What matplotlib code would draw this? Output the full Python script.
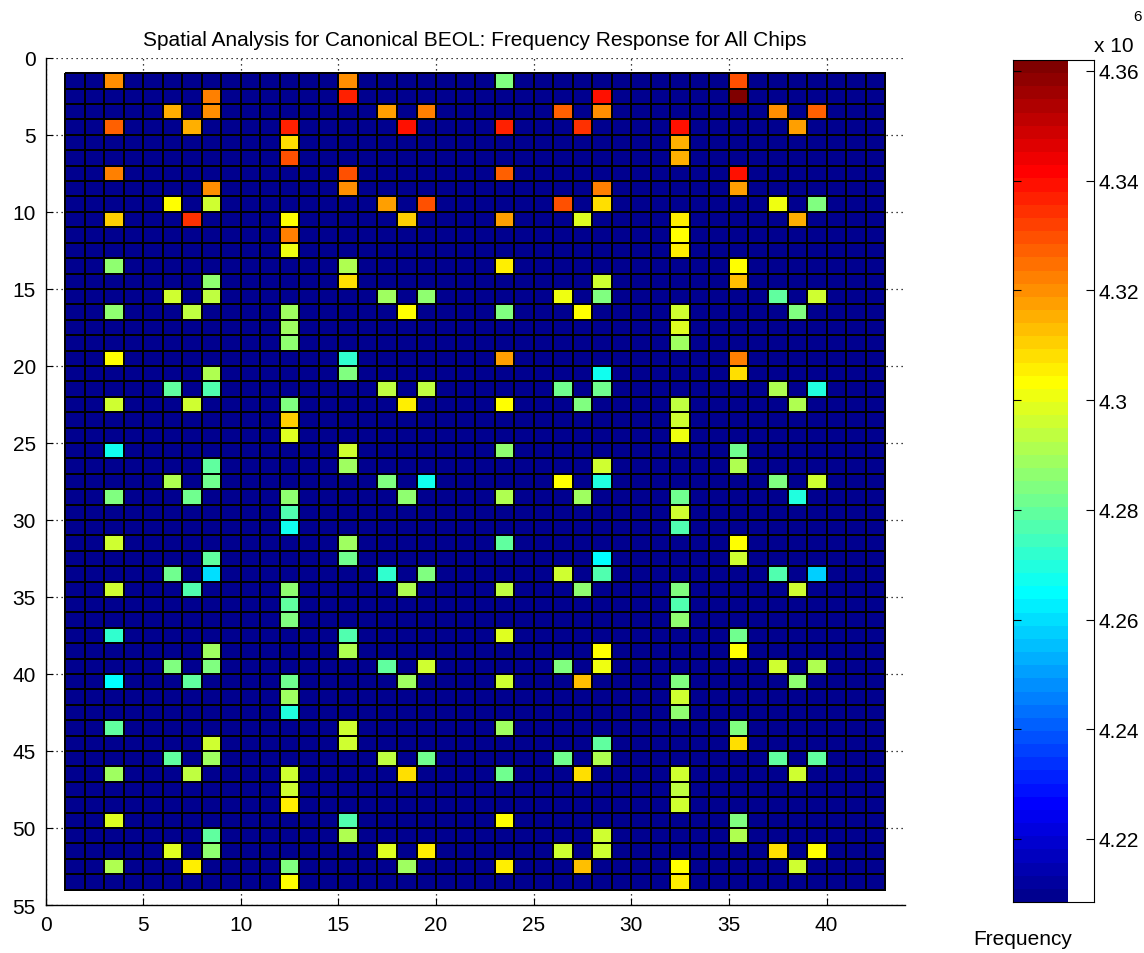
import numpy as np
import matplotlib
matplotlib.use("Agg")
import matplotlib.pyplot as plt
from matplotlib.colors import ListedColormap, Normalize

plt.rcParams['font.family'] = ['Liberation Sans', 'DejaVu Sans']

# frequency in units of 1e6, background cells sit at the minimum
f_min = 4.2085
f_max = 4.362
n_cols = 42
n_rows = 53

# row indices (cell top edge) of the test structures in each column type
rows_a = [1, 4, 7, 10, 13, 16, 19, 22, 25, 28, 31, 34, 37, 40, 43, 46, 49, 52]
rows_v_top = [3, 9, 15, 21, 27, 33, 39, 45, 51]
rows_v_low = [4, 10, 16, 22, 28, 34, 40, 46, 52]
rows_v_pair = [2, 3, 8, 9, 14, 15, 20, 21, 26, 27, 32, 33, 38, 39, 44, 45, 50, 51]
rows_triple = [4, 5, 6, 10, 11, 12, 16, 17, 18, 22, 23, 24, 28, 29, 30,
               34, 35, 36, 40, 41, 42, 46, 47, 48, 52, 53]
rows_pair = [1, 2, 7, 8, 13, 14, 19, 20, 25, 26, 31, 32, 37, 38, 43, 44, 49, 50]

freq_c03 = [4.320, 4.327, 4.322, 4.310, 4.287, 4.286, 4.303, 4.295, 4.267,
            4.285, 4.297, 4.297, 4.273, 4.265, 4.279, 4.289, 4.299, 4.291]
freq_c06 = [4.315, 4.303, 4.295, 4.279, 4.291, 4.281, 4.285, 4.279, 4.299]
freq_c07 = [4.315, 4.334, 4.294, 4.295, 4.282, 4.277, 4.279, 4.293, 4.306]
freq_c08 = [4.322, 4.321, 4.319, 4.297, 4.287, 4.294, 4.292, 4.277, 4.279,
            4.282, 4.279, 4.259, 4.288, 4.284, 4.297, 4.288, 4.279, 4.287]
freq_c12 = [4.338, 4.308, 4.329, 4.303, 4.322, 4.302, 4.288, 4.289, 4.286,
            4.284, 4.311, 4.299, 4.287, 4.277, 4.267, 4.287, 4.279, 4.283,
            4.282, 4.289, 4.270, 4.297, 4.297, 4.306, 4.284, 4.303]
freq_c15 = [4.319, 4.336, 4.329, 4.319, 4.292, 4.308, 4.273, 4.285, 4.297,
            4.289, 4.289, 4.281, 4.277, 4.291, 4.295, 4.295, 4.277, 4.291]
freq_c17 = [4.317, 4.317, 4.288, 4.293, 4.285, 4.273, 4.280, 4.293, 4.299]
freq_c18 = [4.339, 4.311, 4.303, 4.305, 4.287, 4.292, 4.289, 4.308, 4.289]
freq_c19 = [4.322, 4.329, 4.286, 4.293, 4.267, 4.283, 4.297, 4.281, 4.306]
freq_c23 = [4.283, 4.336, 4.327, 4.317, 4.305, 4.284, 4.318, 4.303, 4.287,
            4.291, 4.279, 4.293, 4.299, 4.295, 4.289, 4.282, 4.303, 4.306]
freq_c26 = [4.327, 4.329, 4.300, 4.282, 4.303, 4.295, 4.284, 4.282, 4.297]
freq_c27 = [4.334, 4.299, 4.303, 4.284, 4.289, 4.287, 4.313, 4.308, 4.313]
freq_c28 = [4.339, 4.321, 4.322, 4.308, 4.295, 4.284, 4.267, 4.282, 4.295,
            4.270, 4.265, 4.277, 4.303, 4.300, 4.280, 4.291, 4.297, 4.295]
freq_c32 = [4.340, 4.315, 4.315, 4.306, 4.303, 4.305, 4.297, 4.299, 4.288,
            4.293, 4.295, 4.300, 4.282, 4.297, 4.277, 4.283, 4.277, 4.287,
            4.284, 4.297, 4.287, 4.295, 4.294, 4.297, 4.303, 4.305]
freq_c35 = [4.330, 4.361, 4.340, 4.317, 4.303, 4.313, 4.322, 4.309, 4.282,
            4.291, 4.303, 4.297, 4.282, 4.304, 4.285, 4.308, 4.285, 4.291]
freq_c37 = [4.321, 4.300, 4.280, 4.291, 4.284, 4.277, 4.296, 4.280, 4.307]
freq_c38 = [4.317, 4.315, 4.284, 4.291, 4.270, 4.297, 4.287, 4.296, 4.296]
freq_c39 = [4.327, 4.284, 4.295, 4.270, 4.295, 4.257, 4.291, 4.280, 4.303]

columns = [
    (3, rows_a, freq_c03), (6, rows_v_top, freq_c06), (7, rows_v_low, freq_c07),
    (8, rows_v_pair, freq_c08), (12, rows_triple, freq_c12), (15, rows_pair, freq_c15),
    (17, rows_v_top, freq_c17), (18, rows_v_low, freq_c18), (19, rows_v_top, freq_c19),
    (23, rows_a, freq_c23), (26, rows_v_top, freq_c26), (27, rows_v_low, freq_c27),
    (28, rows_v_pair, freq_c28), (32, rows_triple, freq_c32), (35, rows_pair, freq_c35),
    (37, rows_v_top, freq_c37), (38, rows_v_low, freq_c38), (39, rows_v_top, freq_c39),
]


def matlab_jet(m=64):
    # same construction as MATLAB's jet.m
    n = int(np.ceil(m / 4))
    u = np.concatenate([np.arange(1, n + 1) / n, np.ones(n - 1), np.arange(n, 0, -1) / n])
    g = int(np.ceil(n / 2)) - int(m % 4 == 1) + np.arange(1, len(u) + 1)
    r = g + n
    b = g - n
    J = np.zeros((m, 3))
    gk = g[g <= m]
    J[gk - 1, 1] = u[:len(gk)]
    rk = r[r <= m]
    J[rk - 1, 0] = u[:len(rk)]
    bk = b[b >= 1]
    J[bk - 1, 2] = u[len(u) - len(bk):]
    return J


cmap = ListedColormap(matlab_jet(64))
norm = Normalize(vmin=f_min, vmax=f_max)

grid = np.full((n_rows, n_cols), f_min)
for col, rows, vals in columns:
    for r, v in zip(rows, vals):
        grid[r - 1, col - 1] = v

x_edges = np.arange(1, n_cols + 2)
y_edges = np.arange(1, n_rows + 2)

fig = plt.figure(figsize=(11.44, 9.54), dpi=100)
ax = fig.add_axes([0.0398, 0.0503, 0.751, 0.888])

ax.pcolormesh(x_edges, y_edges, grid, cmap=cmap, norm=norm,
              edgecolors='black', linewidth=1.2, zorder=2)
ax.set_xlim(0, 44)
ax.set_ylim(55, 0)
ax.set_xticks(np.arange(0, 41, 5))
ax.set_yticks(np.arange(0, 56, 5))
ax.grid(True, color='black', linestyle=(0, (1, 3)), linewidth=0.9, zorder=0)
ax.set_axisbelow(True)
for side in ['top', 'right']:
    ax.spines[side].set_visible(False)
ax.spines['left'].set_linewidth(1.0)
ax.spines['bottom'].set_linewidth(1.0)
ax.tick_params(direction='in', length=5, labelsize=15, pad=7)
ax.set_title("Spatial Analysis for Canonical BEOL: Frequency Response for All Chips",
             fontsize=15, pad=9)

# colorbar drawn as its own axes (MATLAB leaves a white strip on the right)
cax = fig.add_axes([1013 / 1144, 51 / 954, 81 / 1144, 842 / 954])
band_edges = np.linspace(f_min, f_max, 65)
band_mid = (band_edges[:-1] + band_edges[1:]) / 2
cax.pcolormesh([0, 0.68], band_edges, band_mid[:, None], cmap=cmap, norm=norm)
cax.set_xlim(0, 1)
cax.set_ylim(f_min, f_max)
cax.set_xticks([])
cbar_ticks = [4.22, 4.24, 4.26, 4.28, 4.30, 4.32, 4.34, 4.36]
cax.set_yticks(cbar_ticks)
cax.set_yticklabels(['4.22', '4.24', '4.26', '4.28', '4.3', '4.32', '4.34', '4.36'])
cax.tick_params(axis='y', left=True, right=True, labelleft=False, labelright=True,
                direction='in', length=6, labelsize=15, pad=3)

fig.text(1114 / 1144, 1 - 47 / 954, 'x 10', ha='center', va='center', fontsize=15)
fig.text(1138 / 1144, 1 - 17 / 954, '6', ha='center', va='center', fontsize=11)
fig.text(1023 / 1144, 1 - 940 / 954, 'Frequency', ha='center', va='center', fontsize=15)

fig.savefig('out.png', dpi=100)
